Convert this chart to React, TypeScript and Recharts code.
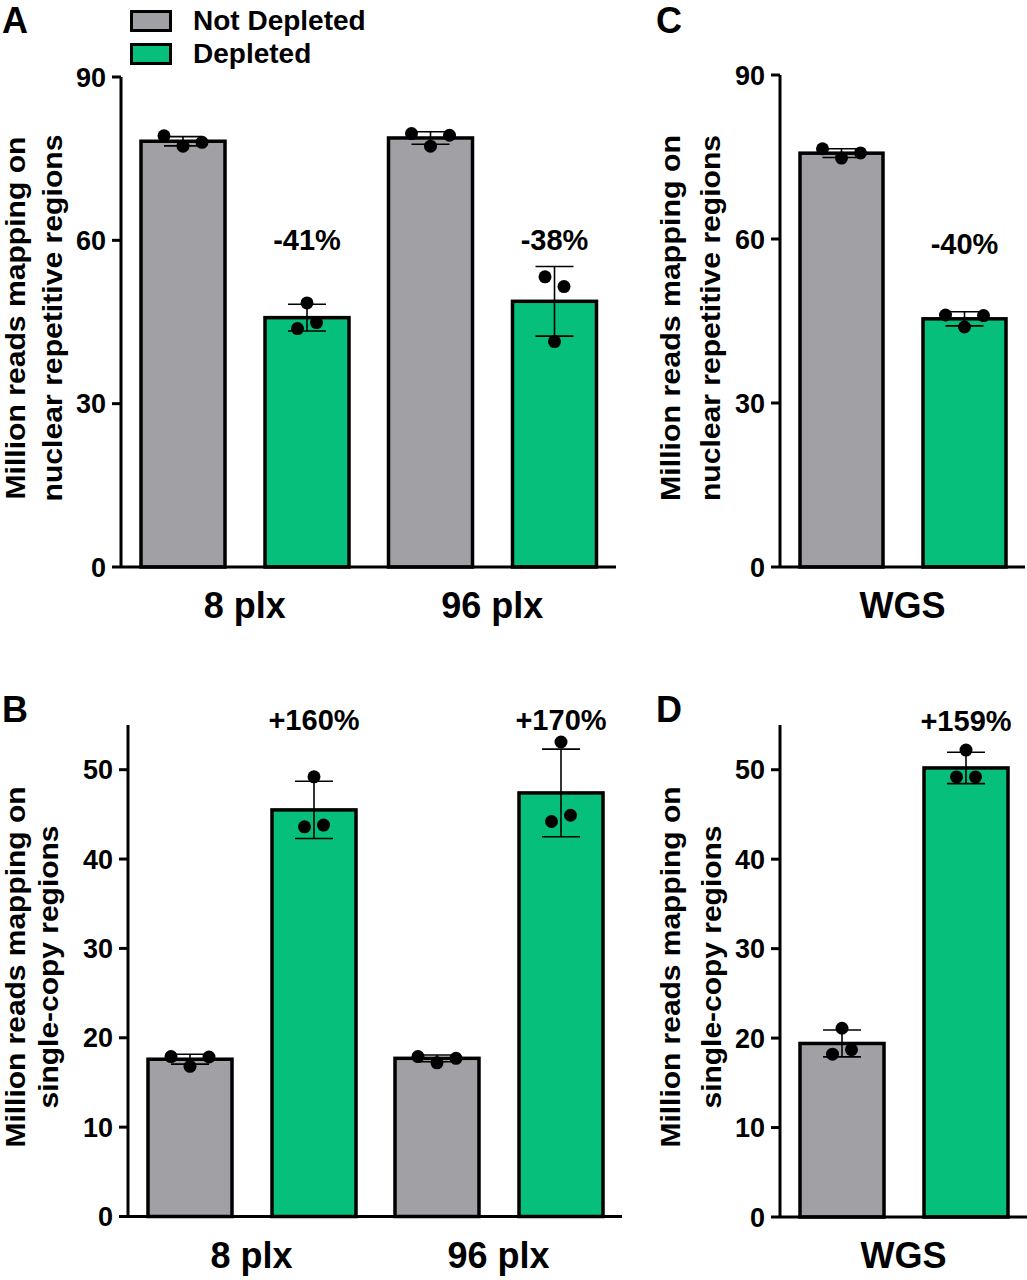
import React from "react";
import { BarChart, Bar, XAxis, YAxis, ErrorBar, LabelList, Legend } from "recharts";

const FONT = "'Liberation Sans', Arial, Helvetica, sans-serif";
const GREY = "#a1a0a5";
const GREEN = "#06bf7a";

const seriesNames = ["Not Depleted", "Depleted"];
const plexCategories = ["8 plx", "96 plx"];
const wgsCategories = ["WGS"];

// A: nuclear repetitive regions, 8 / 96 plex
const aNotDepleted = [78.2, 78.8];
const aNotDepletedSd = [0.85, 1.15];
const aNotDepletedReps = [[79.2, 77.3, 78.0], [79.6, 77.3, 79.3]];
const aDepleted = [45.8, 48.8];
const aDepletedSd = [2.45, 6.4];
const aDepletedReps = [[43.8, 48.5, 44.9], [53.3, 41.4, 51.5]];
const aChange = ["-41%", "-38%"];

// C: nuclear repetitive regions, WGS
const cNotDepleted = [75.7];
const cNotDepletedSd = [0.8];
const cNotDepletedReps = [[76.5, 74.8, 75.75]];
const cDepleted = [45.4];
const cDepletedSd = [1.3];
const cDepletedReps = [[46.1, 43.9, 46.0]];
const cChange = ["-40%"];

// B: single-copy regions, 8 / 96 plex
const bNotDepleted = [17.6, 17.7];
const bNotDepletedSd = [0.55, 0.38];
const bNotDepletedReps = [[17.9, 16.8, 17.85], [17.9, 17.2, 17.7]];
const bDepleted = [45.5, 47.4];
const bDepletedSd = [3.2, 4.9];
const bDepletedReps = [[43.6, 49.2, 43.8], [44.2, 53.1, 44.9]];
const bChange = ["+160%", "+170%"];

// D: single-copy regions, WGS
const dNotDepleted = [19.4];
const dNotDepletedSd = [1.5];
const dNotDepletedReps = [[18.2, 21.1, 18.7]];
const dDepleted = [50.2];
const dDepletedSd = [1.75];
const dDepletedReps = [[49.2, 52.2, 49.2]];
const dChange = ["+159%"];

const repTicks = [0, 30, 60, 90];
const singleTicks = [0, 10, 20, 30, 40, 50];

const repTitle = ["Million reads mapping on", "nuclear repetitive regions"];
const singleTitle = ["Million reads mapping on", "single-copy regions"];

function makeRows(cats, nd, ndSd, ndReps, d, dSd, dReps, change) {
  return cats.map((cat, i) => ({
    cat,
    nd: nd[i],
    ndSd: ndSd[i],
    ndReps: ndReps[i],
    d: d[i],
    dSd: dSd[i],
    dReps: dReps[i],
    change: change[i],
  }));
}

const rowsA = makeRows(plexCategories, aNotDepleted, aNotDepletedSd, aNotDepletedReps, aDepleted, aDepletedSd, aDepletedReps, aChange);
const rowsC = makeRows(wgsCategories, cNotDepleted, cNotDepletedSd, cNotDepletedReps, cDepleted, cDepletedSd, cDepletedReps, cChange);
const rowsB = makeRows(plexCategories, bNotDepleted, bNotDepletedSd, bNotDepletedReps, bDepleted, bDepletedSd, bDepletedReps, bChange);
const rowsD = makeRows(wgsCategories, dNotDepleted, dNotDepletedSd, dNotDepletedReps, dDepleted, dDepletedSd, dDepletedReps, dChange);

const DOT_R = 6.5;
const DOT_CLEAR = 14; // dots closer than this (px) get spread sideways
const DOT_STEP = 19;

// Prism-like scatter: overlapping replicates are pushed apart horizontally
function spread(py: number[]) {
  const root = py.map((_, i) => i);
  const find = (i: number): number => (root[i] === i ? i : (root[i] = find(root[i])));
  for (let i = 0; i < py.length; i++)
    for (let j = i + 1; j < py.length; j++)
      if (Math.abs(py[i] - py[j]) < DOT_CLEAR) root[find(i)] = find(j);
  const groups = new Map<number, number[]>();
  py.forEach((_, i) => {
    const r = find(i);
    groups.set(r, [...(groups.get(r) || []), i]);
  });
  const off = py.map(() => 0);
  groups.forEach((idx) =>
    idx.forEach((i, k) => {
      off[i] = (k - (idx.length - 1) / 2) * DOT_STEP;
    })
  );
  return off;
}

const barWithDots = (valueKey: string, repsKey: string) => (props: any) => {
  const { x, y, width, height, fill, payload } = props;
  const value = payload[valueKey];
  const base = y + height;
  const k = height / value;
  const py = (payload[repsKey] as number[]).map((v) => base - v * k);
  const off = spread(py);
  return (
    <g>
      <rect x={x} y={y} width={width} height={height} fill={fill} stroke="#000" strokeWidth={3.5} />
      {py.map((cy, i) => (
        <circle key={i} cx={x + width / 2 + off[i]} cy={cy} r={DOT_R} fill="#000" />
      ))}
    </g>
  );
};

const changeLabel = (rows: any[], level: number) => (props: any) => {
  const vb = props.viewBox ?? props;
  const row = rows.find((r) => r.change === props.value);
  if (!row || vb.x == null) return null;
  const base = Math.max(vb.y, vb.y + vb.height);
  const k = Math.abs(vb.height) / row.d;
  return (
    <text
      x={vb.x + vb.width / 2}
      y={base - level * k}
      textAnchor="middle"
      fontSize={29}
      fontWeight={700}
      fontFamily={FONT}
      fill="#000"
    >
      {props.value}
    </text>
  );
};

const CategoryTick = (props: any) => (
  <text
    x={props.x}
    y={props.y + 51}
    textAnchor="middle"
    fontSize={36}
    fontWeight={700}
    fontFamily={FONT}
    fill="#000"
  >
    {props.payload.value}
  </text>
);

const axisTitle = (lines: string[], xs: number[], lens: number[], cy: number) => () => (
  <g>
    {lines.map((t, i) => (
      <text
        key={t}
        x={xs[i]}
        y={cy}
        transform={`rotate(-90 ${xs[i]} ${cy})`}
        textAnchor="middle"
        textLength={lens[i]}
        lengthAdjust="spacingAndGlyphs"
        fontSize={28}
        fontWeight={700}
        fontFamily={FONT}
        fill="#000"
      >
        {t}
      </text>
    ))}
  </g>
);

const renderLegend = (props: any) => {
  const items = [...(props.payload || [])].sort(
    (a: any, b: any) => seriesNames.indexOf(a.value) - seriesNames.indexOf(b.value)
  );
  return (
    <div style={{ fontFamily: FONT, fontWeight: 700, fontSize: 28, color: "#000" }}>
      {items.map((e: any) => (
        <div key={e.value} style={{ display: "flex", alignItems: "center", height: 33 }}>
          <span
            style={{
              display: "inline-block",
              width: 36,
              height: 16,
              background: e.color,
              border: "3px solid #000",
              marginRight: 21,
            }}
          />
          {e.value}
        </div>
      ))}
    </div>
  );
};

const axisStroke = { stroke: "#000", strokeWidth: 3 };

function Panel({ box, plot, rows, domain, ticks, title, changeLevel, legend = false }: any) {
  const xAxisHeight = 50;
  return (
    <div style={{ position: "absolute", left: box.left, top: box.top }}>
      <BarChart
        width={box.width}
        height={box.height}
        data={rows}
        margin={{
          top: plot.top - box.top,
          right: box.left + box.width - plot.right,
          left: 0,
          bottom: box.top + box.height - plot.bottom - xAxisHeight,
        }}
        barCategoryGap={20}
        barGap={40}
      >
        <XAxis
          dataKey="cat"
          height={xAxisHeight}
          tickSize={0}
          tickMargin={0}
          tickLine={false}
          axisLine={axisStroke}
          tick={<CategoryTick />}
          interval={0}
        />
        <YAxis
          width={plot.left - box.left}
          domain={domain}
          ticks={ticks}
          interval={0}
          tickSize={9}
          tickMargin={6}
          tick={{ fill: "#000", fontSize: 27, fontWeight: 700, fontFamily: FONT }}
          tickLine={axisStroke}
          axisLine={axisStroke}
          label={{ content: axisTitle(title.lines, title.xs, title.lens, title.cy) }}
        />
        {legend && (
          <Legend
            layout="vertical"
            align="center"
            verticalAlign="middle"
            width={270}
            height={66}
            wrapperStyle={{ left: 130, top: 4 }}
            content={renderLegend}
          />
        )}
        <Bar dataKey="nd" name={seriesNames[0]} fill={GREY} shape={barWithDots("nd", "ndReps")} isAnimationActive={false}>
          <ErrorBar dataKey="ndSd" direction="y" width={19} stroke="#000" strokeWidth={1.6} />
        </Bar>
        <Bar dataKey="d" name={seriesNames[1]} fill={GREEN} shape={barWithDots("d", "dReps")} isAnimationActive={false}>
          <ErrorBar dataKey="dSd" direction="y" width={19} stroke="#000" strokeWidth={1.6} />
          <LabelList dataKey="change" content={changeLabel(rows, changeLevel)} />
        </Bar>
      </BarChart>
    </div>
  );
}

const letterStyle: React.CSSProperties = {
  position: "absolute",
  fontSize: 36,
  fontWeight: 700,
  lineHeight: "36px",
  color: "#000",
};

export default function App() {
  return (
    <div style={{ position: "relative", width: 1027, height: 1280, background: "#fff", fontFamily: FONT }}>
      <style>{"body{margin:0}"}</style>
      <Panel
        box={{ left: 0, top: 0, width: 630, height: 645 }}
        plot={{ left: 121, right: 616, top: 77, bottom: 567 }}
        rows={rowsA}
        domain={[0, 90]}
        ticks={repTicks}
        title={{ lines: repTitle, xs: [25, 62], lens: [363, 367], cy: 318 }}
        changeLevel={58.2}
        legend
      />
      <Panel
        box={{ left: 640, top: 0, width: 387, height: 645 }}
        plot={{ left: 780, right: 1025, top: 75, bottom: 567 }}
        rows={rowsC}
        domain={[0, 90]}
        ticks={repTicks}
        title={{ lines: repTitle, xs: [40, 80], lens: [366, 366], cy: 318 }}
        changeLevel={57.3}
      />
      <Panel
        box={{ left: 0, top: 650, width: 630, height: 630 }}
        plot={{ left: 128, right: 622, top: 725, bottom: 1216.5 }}
        rows={rowsB}
        domain={[0, 55]}
        ticks={singleTicks}
        title={{ lines: singleTitle, xs: [25, 58], lens: [361, 283], cy: 317 }}
        changeLevel={54.4}
      />
      <Panel
        box={{ left: 640, top: 650, width: 387, height: 630 }}
        plot={{ left: 780, right: 1027, top: 725, bottom: 1217 }}
        rows={rowsD}
        domain={[0, 55]}
        ticks={singleTicks}
        title={{ lines: singleTitle, xs: [40, 81], lens: [361, 283], cy: 317 }}
        changeLevel={54.3}
      />
      <div style={{ ...letterStyle, left: 2, top: 3 }}>A</div>
      <div style={{ ...letterStyle, left: 2, top: 692 }}>B</div>
      <div style={{ ...letterStyle, left: 656, top: 3 }}>C</div>
      <div style={{ ...letterStyle, left: 656, top: 692 }}>D</div>
    </div>
  );
}
